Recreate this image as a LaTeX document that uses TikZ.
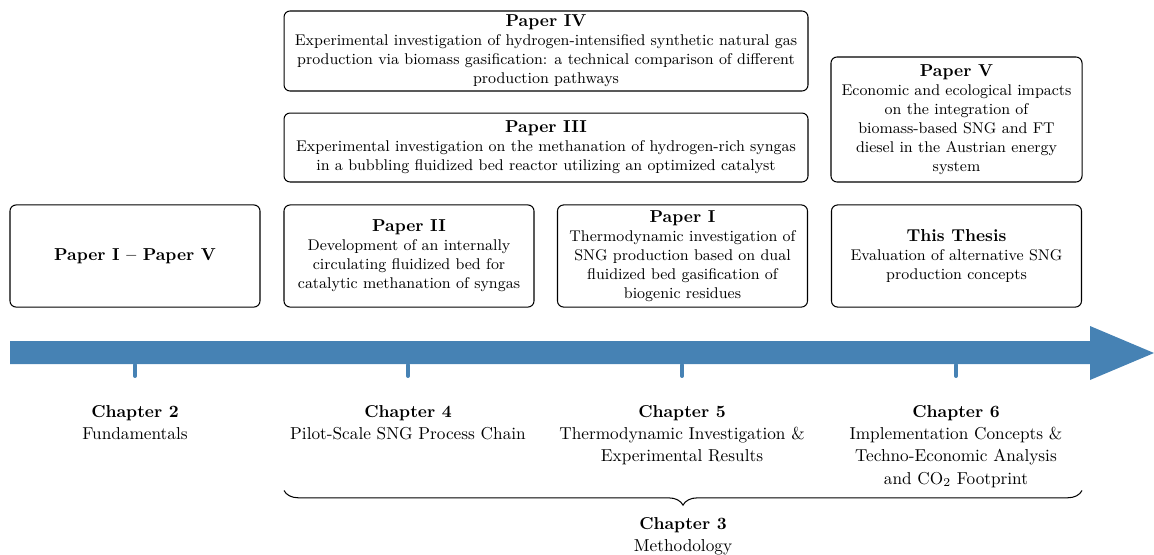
\documentclass[tikz,border=0pt]{standalone}
\usetikzlibrary{decorations.pathreplacing}
\definecolor{timeline}{RGB}{70,130,180}
\tikzset{
  paperbox/.style={draw, rounded corners=3.5pt, line width=0.6pt, align=center,
    inner sep=0pt, font=\small},
  smallbox/.style={paperbox, minimum width=145pt, minimum height=59.2pt},
  chapter/.style={align=center, anchor=north, inner sep=0pt,
    execute at begin node={\setlength{\baselineskip}{12.9pt}}},
  tick/.style={draw=timeline, line width=2.3pt, line cap=round},
}
\newcommand{\ptitle}[1]{{\normalsize\bfseries #1}}
\begin{document}
\begin{tikzpicture}[x=0.58pt, y=-0.58pt]
\useasboundingbox (0,0) rectangle (1154,554);

% paper boxes
\node[paperbox, minimum width=303.9pt, minimum height=46.4pt] (p4) at (546,51)
  {\ptitle{Paper IV}\\
   Experimental investigation of hydrogen-intensified synthetic natural gas\\
   production via biomass gasification: a technical comparison of different\\
   production pathways};
\node[paperbox, minimum width=303.9pt, minimum height=40pt] (p3) at (546,147.5)
  {\ptitle{Paper III}\\
   Experimental investigation on the methanation of hydrogen-rich syngas\\
   in a bubbling fluidized bed reactor utilizing an optimized catalyst};
\node[paperbox, minimum width=145.6pt, minimum height=72.5pt] (p5) at (956.5,119.5)
  {\ptitle{Paper V}\\
   Economic and ecological impacts\\
   on the integration of\\
   biomass-based SNG and FT\\
   diesel in the Austrian energy\\
   system};
\node[smallbox] (all) at (135,256) {\ptitle{Paper I -- Paper V}};
\node[smallbox] (p2) at (409,256)
  {\ptitle{Paper II}\\
   Development of an internally\\
   circulating fluidized bed for\\
   catalytic methanation of syngas};
\node[smallbox] (p1) at (682.5,256)
  {\ptitle{Paper I}\\
   Thermodynamic investigation of\\
   SNG production based on dual\\
   fluidized bed gasification of\\
   biogenic residues};
\node[smallbox] (thesis) at (956.5,256)
  {\ptitle{This Thesis}\\
   Evaluation of alternative SNG\\
   production concepts};

% timeline arrow
\fill[timeline] (10,341) -- (1090,341) -- (1090,326) -- (1154,353)
  -- (1090,380) -- (1090,364) -- (10,364) -- cycle;

% ticks and chapter labels
\foreach \x/\n in {135/c2, 408/c4, 682/c5, 956/c6}{
  \coordinate (\n top) at (\x,365);
  \coordinate (\n bot) at (\x,376);
  \draw[tick] (\n top) -- (\n bot);
}
\node[chapter] (c2) at (135,405) {\textbf{Chapter 2}\\Fundamentals};
\node[chapter] (c4) at (408,405) {\textbf{Chapter 4}\\Pilot-Scale SNG Process Chain};
\node[chapter] (c5) at (682,405) {\textbf{Chapter 5}\\Thermodynamic Investigation \&\\Experimental Results};
\node[chapter] (c6) at (956,405) {\textbf{Chapter 6}\\Implementation Concepts \&\\Techno-Economic Analysis\\and CO$_2$ Footprint};

% methodology brace
\coordinate (bl) at (284,490.5);
\coordinate (br) at (1082,490.5);
\draw[decorate, decoration={brace, mirror, amplitude=8.5pt}, line width=0.6pt] (bl) -- (br);
\node[chapter] (c3) at (683,517) {\textbf{Chapter 3}\\Methodology};
\end{tikzpicture}
\end{document}
